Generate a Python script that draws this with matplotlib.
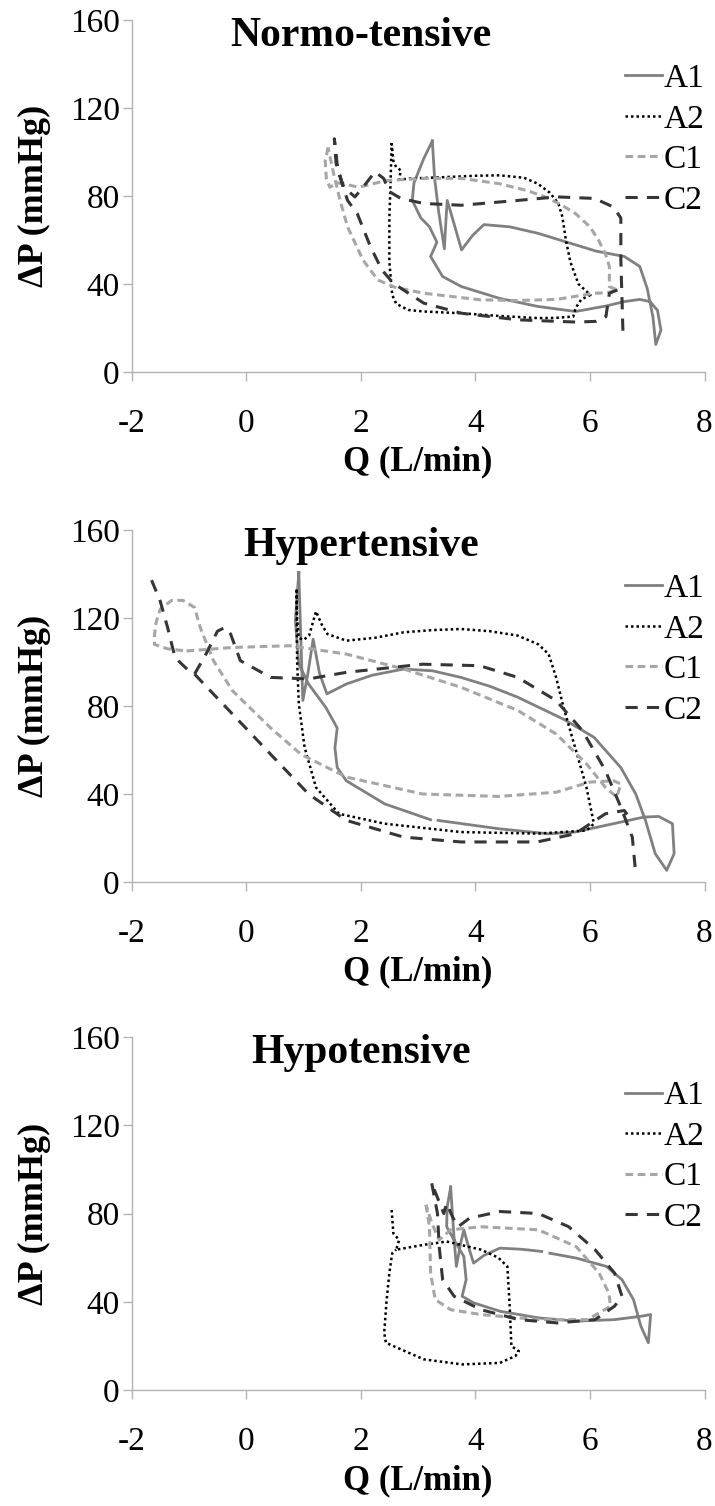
import numpy as np
import matplotlib
matplotlib.use("Agg")
import matplotlib.pyplot as plt

plt.rcParams["font.family"] = ["Liberation Serif", "DejaVu Serif"]
plt.rcParams["axes.unicode_minus"] = False

# ---- Normo-tensive ----
nt_a1_q = [3.25, 3.29, 3.36, 3.46, 3.49, 3.51, 3.6, 3.76, 3.95, 4.15, 4.6, 5.1, 5.6, 6.1, 6.6, 6.87, 7.0, 7.1, 7.15,
           7.24, 7.18, 7.05, 6.87, 6.6, 6.28, 5.75, 5.09, 4.42, 3.76, 3.43, 3.22, 3.33, 3.2, 3.05, 2.9, 2.93, 3.1, 3.25]
nt_a1_p = [105, 88, 73, 56, 70, 78, 70, 55.5, 62, 67, 66, 63, 59, 55, 52.5, 48, 38, 25, 12.5,
           19, 28, 32, 33, 32, 30, 27.5, 29.8, 33.5, 38.8, 43.4, 52.5, 59, 66, 70, 78, 86, 97, 105]
nt_a2_q = [2.54, 2.57, 2.62, 2.70, 2.67, 2.9, 3.4, 4.0, 4.42, 4.85, 5.09, 5.3, 5.45, 5.52, 5.58, 5.66, 5.8, 6.01,
           5.85, 5.75, 5.71, 5.4, 5.09, 4.4, 3.76, 3.1, 2.83, 2.62, 2.55, 2.5, 2.5, 2.52, 2.54]
nt_a2_p = [104, 96, 93, 91.7, 87.5, 88, 88.5, 89.2, 89.4, 88.3, 85.6, 81.5, 76.6, 70.5, 60, 50, 40, 35,
           33, 29, 25.2, 24.6, 24.5, 25.5, 26.7, 27.5, 28.2, 31, 35, 50, 70, 85, 104]
nt_c1_q = [1.43, 1.38, 1.40, 1.46, 1.6, 1.97, 2.44, 3.1, 3.76, 4.42, 4.9, 5.22, 5.5, 5.75, 6.0, 6.15, 6.28, 6.34,
           6.34, 6.48, 6.3, 6.08, 5.42, 4.75, 4.09, 3.1, 2.6, 2.30, 2.04, 1.77, 1.64, 1.54, 1.48, 1.43]
nt_c1_p = [102, 96, 88, 84, 86, 84, 87, 88, 88, 85.6, 82.5, 79.6, 76, 72, 66, 60, 53, 47.9,
           38.8, 37.3, 36, 35.8, 33, 32.5, 32.8, 35.8, 38.5, 41.8, 50.9, 66, 78, 88.7, 96, 102]
nt_c2_q = [6.48, 6.34, 6.28, 6.1, 5.75, 4.75, 3.76, 3.1, 2.57, 2.37, 2.17, 1.94, 1.77, 1.6, 1.54, 1.57, 1.7, 1.9,
           2.04, 2.25, 2.4, 2.5, 2.7, 3.1, 3.76, 4.75, 5.42, 6.08, 6.41, 6.54, 6.54, 6.58]
nt_c2_p = [37.3, 35.8, 25.2, 23, 22.7, 23.7, 26.7, 31.3, 40.3, 46.4, 57, 72, 78, 92, 106, 95, 84, 79.6,
           84, 91, 88, 82, 78.9, 76.6, 75.8, 78, 79.6, 78.9, 75, 70, 51, 15.4]

# ---- Hypertensive ----
ht_a1_q = [0.92, 0.95, 0.99, 1.08, 1.17, 1.28, 1.41, 1.75, 2.2, 2.75, 3.25, 3.75, 4.25, 4.74, 5.54, 6.07, 6.54, 6.80,
           6.97, 7.14, 7.34, 7.47, 7.44, 7.2, 6.94, 6.41, 5.74, 5.28, 4.41, 3.35, np.nan, 3.22, 2.42, 1.75, 1.59,
           1.55, 1.59, 1.39, 1.09, 0.92, 0.86, 0.92]
ht_a1_p = [140.7, 115, 82.5, 95, 110.4, 95, 85.5, 90, 94, 96.8, 96, 93, 89, 84, 74, 65.8, 52, 40,
           28, 12.9, 5.3, 12.9, 26.5, 29.8, 29.5, 26.5, 22.7, 21.9, 24.2, 28, np.nan, 28.3, 35.5, 46, 52,
           61, 70, 79.4, 90, 99, 118.8, 140.7]
ht_a2_q = [0.88, 0.89, 0.92, 1.0, 1.1, 1.22, 1.32, 1.42, 1.75, 2.25, 2.75, 3.25, 3.75, 4.25, 4.74, 5.1, 5.28, 5.41,
           5.54, 5.74, 5.94, 6.07, 5.94, 5.08, 3.75, 2.42, 1.62, 1.22, 1.02, 0.92, 0.89, 0.88]
ht_a2_p = [133, 120, 111, 110, 112, 123, 117, 112.7, 109.7, 111, 113.5, 114.5, 115, 114, 112, 108, 103.6, 93,
           79.4, 61.3, 43, 26.5, 23.4, 22, 22.7, 26.5, 31, 43, 61.3, 81, 100.6, 133]
ht_c1_q = [-1.04, -0.24, 0.76, 1.75, 2.75, 3.75, 4.74, 5.41, 5.94, 6.27, 6.47, 6.54, 6.41, 6.0, 5.41, 4.41, 3.08,
           1.75, 0.96, 0.43, -0.24, -0.57, -0.8, -0.9, -1.1, -1.3, -1.5, -1.57, -1.6, -1.6, -1.37, -1.04]
ht_c1_p = [105, 106.6, 107.4, 103.6, 96.8, 88.5, 78, 67.3, 53.7, 43, 38.6, 44.6, 46, 45.4, 40.8, 38.9, 40,
           47.7, 58, 70, 87, 100.6, 115.7, 124.8, 128, 128, 124, 118, 112, 108, 106, 105]
ht_c2_q = [-1.65, -1.5, -1.37, -1.24, -1.0, -0.9, -0.7, -0.5, -0.37, -0.27, -0.1, 0.43, 1.09, 1.75, 3.08, 4.08,
           4.74, 5.41, 5.87, 6.27, 6.54, 6.74, 6.8, np.nan,
           -0.9, -0.24, 0.43, 1.09, 1.75, 2.75, 3.75, 5.08, 5.74, 6.27, 6.6, 6.7]
ht_c2_p = [137.2, 127.8, 115.7, 102, 96, 94.5, 103.6, 114, 115.7, 112.7, 100.6, 93, 92.3, 95.3, 99, 98.3,
           93, 82.5, 68.8, 50.7, 34, 20.4, 3.8, np.nan,
           94.5, 76.4, 58, 40, 28, 20.4, 18.2, 18.2, 21.9, 31, 32.5, 29]

# ---- Hypotensive ----
lo_a1_q = [3.57, 3.6, 3.64, 3.67, 3.74, 3.80, 3.88, 3.97, 4.15, 4.43, 4.8, 5.16, np.nan, 5.3, 5.76, 6.29, 6.56,
           6.76, 6.89, 7.02, 7.06, 6.89, 6.43, 5.76, 5.1, 4.43, 3.97, 3.77, 3.84, 3.80, 3.63, 3.5, 3.51, 3.57]
lo_a1_p = [92, 80, 65, 56, 66, 72.6, 65, 57.5, 61, 64.3, 63.8, 62.8, np.nan, 62, 59.8, 56, 50,
           41, 28.9, 21.4, 34.2, 33.4, 31.9, 31.2, 32.7, 35.7, 39.5, 42.5, 50, 60.5, 68, 74, 83, 92]
lo_a2_q = [2.54, 2.57, 2.67, 2.62, 3.1, 3.5, 4.1, 4.4, 4.56, 4.58, 4.6, 4.63, 4.76, 4.7, 4.43, 3.77, 3.1, 2.44,
           2.41, 2.45, 2.5, 2.55, 2.62]
lo_a2_p = [81.6, 71, 68, 63.6, 65.8, 67.3, 63.6, 60, 56, 47, 38, 19.9, 17.6, 15.4, 12.3, 11.6, 13.9, 21.4,
           25.9, 40, 53, 62, 63.6]
lo_c1_q = [3.14, 3.2, 3.22, 3.3, 3.57, 4.1, 5.1, 5.96, 6.36, 6.33, 6.16, 5.76, 5.1, 4.1, 3.57, 3.37, 3.25, 3.14]
lo_c1_p = [83.9, 74, 53, 41, 36.4, 34.2, 31.9, 31.9, 38, 44, 53, 65, 72.6, 74, 72.6, 68, 75, 83.9]
lo_c2_q = [3.24, 3.34, 3.37, 3.43, 3.63, 4.1, 4.76, 5.43, 6.09, 6.43, 6.56, 6.43, 6.09, 5.63, 5.1, 4.43, 3.9,
           3.7, 3.6, 3.5, 3.45, 3.24]
lo_c2_p = [93.7, 80, 65, 50, 42.5, 36.4, 31.9, 30.4, 31.9, 38, 42.5, 53, 63.6, 74, 80, 80.9, 77.9,
           74, 78.6, 84.6, 80, 93.7]

series_names = ["A1", "A2", "C1", "C2"]
panel_titles = ["Normo-tensive", "Hypertensive", "Hypotensive"]
x_ticks = [-2, 0, 2, 4, 6, 8]
y_ticks = [0, 40, 80, 120, 160]

panels = [
    [(nt_a1_q, nt_a1_p), (nt_a2_q, nt_a2_p), (nt_c1_q, nt_c1_p), (nt_c2_q, nt_c2_p)],
    [(ht_a1_q, ht_a1_p), (ht_a2_q, ht_a2_p), (ht_c1_q, ht_c1_p), (ht_c2_q, ht_c2_p)],
    [(lo_a1_q, lo_a1_p), (lo_a2_q, lo_a2_p), (lo_c1_q, lo_c1_p), (lo_c2_q, lo_c2_p)],
]

styles = [
    dict(color="#808080", lw=2.0, ls="-"),
    dict(color="#000000", lw=1.8, ls=(0, (1, 1.2))),
    dict(color="#a6a6a6", lw=2.2, ls=(0, (2.5, 1.5))),
    dict(color="#363636", lw=2.2, ls=(0, (4, 3))),
]

W, H = 715, 1506
fig = plt.figure(figsize=(W / 100, H / 100), dpi=100)

# axes boxes in pixels: (left, top, right, bottom)
boxes = [(131.5, 20, 704.5, 372), (131.5, 530, 704.5, 882), (131.5, 1037, 704.5, 1390)]
axis_gray = "#b3b3b3"

for i, (l, t, r, b) in enumerate(boxes):
    ax = fig.add_axes([l / W, 1 - b / H, (r - l) / W, (b - t) / H])
    for (q, p), name, st in zip(panels[i], series_names, styles):
        ax.plot(q, p, label=name, solid_joinstyle="round", **st)

    ax.set_xlim(-2, 8)
    ax.set_ylim(0, 160)
    ax.set_xticks(x_ticks)
    ax.set_yticks(y_ticks)
    ax.tick_params(direction="out", length=6.5, width=1, color=axis_gray, labelsize=24)
    ax.tick_params(axis="x", pad=20)
    ax.tick_params(axis="y", pad=2)
    for side in ["top", "right"]:
        ax.spines[side].set_visible(False)
    for side in ["left", "bottom"]:
        ax.spines[side].set_color(axis_gray)
        ax.spines[side].set_linewidth(1)

    ax.set_xlabel("Q (L/min)", fontsize=25, fontweight="bold", va="center")
    ax.xaxis.set_label_coords(0.5, -0.256)
    ax.set_ylabel("\u0394P (mmHg)", fontsize=26, fontweight="bold", va="center")
    ax.yaxis.set_label_coords(-0.17, 0.5)

    ax.text(0.40, 0.927, panel_titles[i], transform=ax.transAxes, ha="center", va="baseline",
            fontsize=30, fontweight="bold")

    ax.legend(loc="upper right", bbox_to_anchor=(1.0, 0.876), frameon=False, fontsize=24,
              handlelength=1.1, handletextpad=0.05, labelspacing=0.3, borderpad=0, borderaxespad=0)

fig.savefig("out.png", dpi=100)
